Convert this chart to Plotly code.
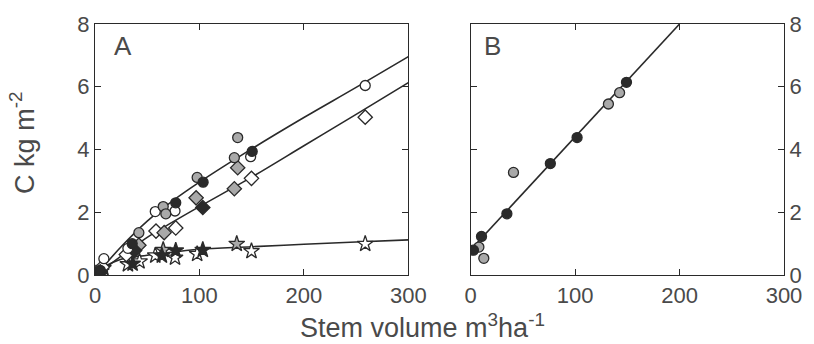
import plotly.graph_objects as go

# ---------------- Panel A data ----------------
# circles (total C): open / gray / black
a_circ_open_x = [8.5, 31.5, 57.7, 76.6, 149.0, 258.7]
a_circ_open_y = [0.52, 0.85, 2.02, 2.04, 3.77, 6.04]
a_circ_gray_x = [42.0, 65.3, 67.8, 97.8, 133.4, 136.6]
a_circ_gray_y = [1.35, 2.18, 1.95, 3.11, 3.74, 4.38]
a_circ_black_x = [5.0, 35.6, 77.3, 103.5, 150.5]
a_circ_black_y = [0.15, 1.0, 2.30, 2.96, 3.94]

# diamonds
a_diam_open_x = [7.0, 30.0, 58.4, 77.3, 149.8, 258.7]
a_diam_open_y = [0.25, 0.65, 1.40, 1.50, 3.08, 5.03]
a_diam_gray_x = [42.0, 66.2, 96.8, 133.4, 136.6]
a_diam_gray_y = [0.95, 1.35, 2.46, 2.75, 3.42]
a_diam_black_x = [5.0, 37.9, 103.2]
a_diam_black_y = [0.10, 0.78, 2.15]

# stars
a_star_open_x = [8.0, 31.5, 42.6, 57.7, 76.6, 97.8, 149.8, 258.7]
a_star_open_y = [0.22, 0.34, 0.43, 0.62, 0.55, 0.67, 0.76, 0.99]
a_star_gray_x = [65.3, 135.7]
a_star_gray_y = [0.80, 0.99]
a_star_black_x = [4.0, 6.0, 36.0, 64.0, 77.3, 103.2]
a_star_black_y = [0.05, 0.12, 0.36, 0.62, 0.78, 0.80]

# fitted curves
fit_x = [5, 25, 50, 75, 100, 150, 200, 250, 300]
fit_circ_y = [0.15, 0.90, 1.72, 2.38, 2.96, 4.02, 5.02, 5.98, 6.96]
fit_diam_y = [0.10, 0.60, 1.20, 1.70, 2.18, 3.12, 4.12, 5.12, 6.13]
fit_star_y = [0.20, 0.50, 0.63, 0.73, 0.82, 0.90, 0.98, 1.05, 1.12]

# ---------------- Panel B data ----------------
b_black_x = [2.7, 10.4, 34.7, 76.3, 101.9, 149.2]
b_black_y = [0.79, 1.23, 1.95, 3.55, 4.38, 6.14]
b_gray_x = [7.9, 12.6, 41.0, 131.9, 142.6]
b_gray_y = [0.89, 0.53, 3.27, 5.45, 5.81]
b_fit_x = [0, 200]
b_fit_y = [0.80, 8.00]

x_ticks = [0, 100, 200, 300]
y_ticks = [0, 2, 4, 6, 8]

INK = "#2a2a2a"
GRAY = "#a9a9a9"
TXT = "#4a4a4a"
FONT = "Liberation Sans, Arial, sans-serif"

fig = go.Figure()

def line(x, y, xa, ya, spline=True):
    fig.add_trace(go.Scatter(x=x, y=y, mode="lines", xaxis=xa, yaxis=ya,
                             line=dict(color=INK, width=1.6,
                                       shape="spline" if spline else "linear"),
                             showlegend=False, hoverinfo="skip"))

def pts(x, y, sym, fill, xa, ya, size=10):
    fig.add_trace(go.Scatter(x=x, y=y, mode="markers", xaxis=xa, yaxis=ya,
                             marker=dict(symbol=sym, size=size, color=fill,
                                         line=dict(color=INK, width=1.3)),
                             showlegend=False))

line(fit_x, fit_circ_y, "x", "y")
line(fit_x, fit_diam_y, "x", "y")
line(fit_x, fit_star_y, "x", "y")
line(b_fit_x, b_fit_y, "x2", "y2", spline=False)

pts(a_star_open_x, a_star_open_y, "star", "white", "x", "y", 12)
pts(a_star_gray_x, a_star_gray_y, "star", GRAY, "x", "y", 12)
pts(a_star_black_x, a_star_black_y, "star", INK, "x", "y", 12)
pts(a_diam_open_x, a_diam_open_y, "diamond", "white", "x", "y", 11)
pts(a_diam_gray_x, a_diam_gray_y, "diamond", GRAY, "x", "y", 11)
pts(a_diam_black_x, a_diam_black_y, "diamond", INK, "x", "y", 11)
pts(a_circ_open_x, a_circ_open_y, "circle", "white", "x", "y")
pts(a_circ_gray_x, a_circ_gray_y, "circle", GRAY, "x", "y")
pts(a_circ_black_x, a_circ_black_y, "circle", INK, "x", "y")

pts(b_gray_x, b_gray_y, "circle", GRAY, "x2", "y2")
pts(b_black_x, b_black_y, "circle", INK, "x2", "y2")

axis_common = dict(showline=True, linecolor=INK, linewidth=1.3, mirror="ticks",
                   ticks="inside", ticklen=6, tickcolor=INK, tickwidth=1.2,
                   showgrid=False, zeroline=False,
                   tickfont=dict(family=FONT, size=22, color=TXT))

fig.update_layout(
    width=814, height=344,
    margin=dict(l=95, r=22, t=18, b=69),
    paper_bgcolor="white", plot_bgcolor="white",
    xaxis=dict(domain=[0, 0.4548], range=[0, 300], tickvals=x_ticks, anchor="y",
               **axis_common),
    yaxis=dict(range=[0, 8], tickvals=y_ticks, anchor="x", **axis_common),
    xaxis2=dict(domain=[0.5452, 1], range=[0, 300], tickvals=x_ticks, anchor="y2",
                **axis_common),
    yaxis2=dict(range=[0, 8], tickvals=y_ticks, anchor="x2", side="right",
                **axis_common),
    annotations=[
        dict(text="A", x=0.040, y=0.9105, xref="paper", yref="paper",
             showarrow=False, xanchor="center", yanchor="middle",
             font=dict(family=FONT, size=26, color=TXT)),
        dict(text="B", x=0.5774, y=0.9105, xref="paper", yref="paper",
             showarrow=False, xanchor="center", yanchor="middle",
             font=dict(family=FONT, size=26, color=TXT)),
        dict(text="Stem volume m<sup>3</sup>ha<sup>-1</sup>", x=0.475, y=-0.205,
             xref="paper", yref="paper", showarrow=False,
             xanchor="center", yanchor="middle",
             font=dict(family=FONT, size=27, color=TXT)),
        dict(text="C kg m<sup>-2</sup>", x=-0.105, y=0.525,
             xref="paper", yref="paper", showarrow=False, textangle=-90,
             xanchor="center", yanchor="middle",
             font=dict(family=FONT, size=27, color=TXT)),
    ],
)

fig.write_html("out.html")
